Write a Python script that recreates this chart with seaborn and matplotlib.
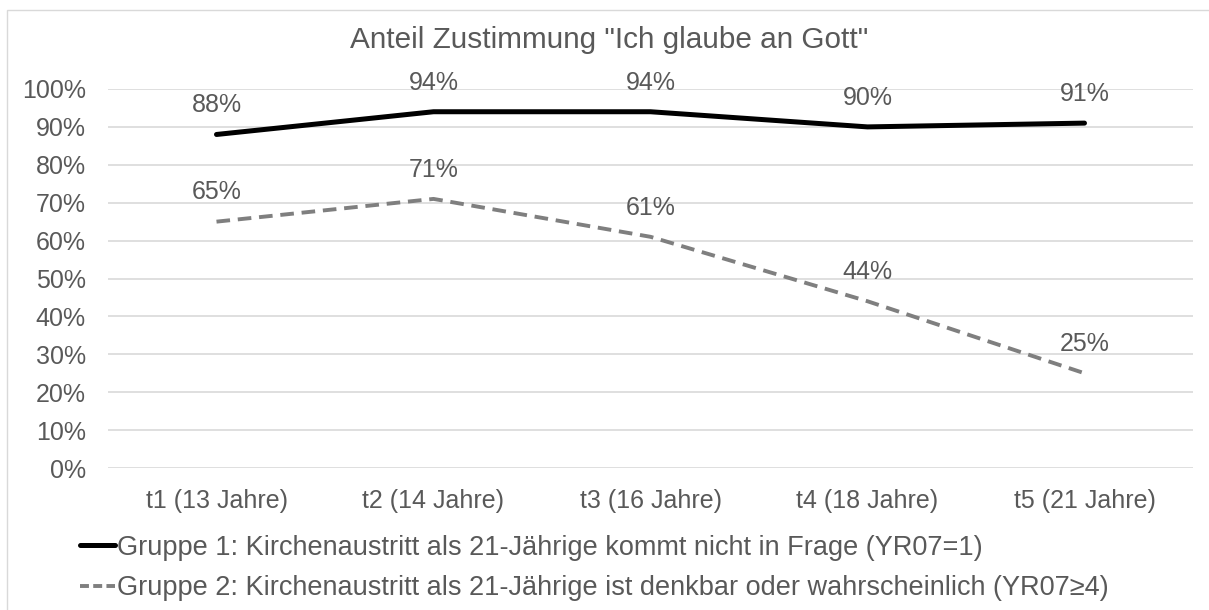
import matplotlib
matplotlib.use("Agg")
import matplotlib.pyplot as plt
from matplotlib.ticker import PercentFormatter
from matplotlib.patches import Rectangle
from matplotlib.lines import Line2D
import seaborn as sns
import pandas as pd

# Werte aus der Grafik
zeitpunkte = ['t1 (13 Jahre)', 't2 (14 Jahre)', 't3 (16 Jahre)', 't4 (18 Jahre)', 't5 (21 Jahre)']
gruppe1 = [88, 94, 94, 90, 91]
gruppe2 = [65, 71, 61, 44, 25]
label1 = 'Gruppe 1: Kirchenaustritt als 21-Jährige kommt nicht in Frage (YR07=1)'
label2 = 'Gruppe 2: Kirchenaustritt als 21-Jährige ist denkbar oder wahrscheinlich (YR07≥4)'
titel = 'Anteil Zustimmung "Ich glaube an Gott"'

sns.set_theme(style='white')
plt.rcParams['font.family'] = ['Liberation Sans', 'DejaVu Sans']
textfarbe = '#595959'

df = pd.DataFrame({
    'zeit': zeitpunkte * 2,
    'wert': [v / 100 for v in gruppe1 + gruppe2],
    'gruppe': [label1] * len(gruppe1) + [label2] * len(gruppe2),
})

W, H = 1209, 610
fig = plt.figure(figsize=(W / 100, H / 100), dpi=100)
ax = fig.add_axes([108 / W, 1 - 468 / H, (1193 - 108) / W, (468 - 89) / H])

sns.lineplot(data=df, x='zeit', y='wert', hue='gruppe', style='gruppe',
             palette={label1: 'black', label2: '#7f7f7f'},
             dashes={label1: '', label2: (3.5, 2)},
             ax=ax, legend=False, sort=False)
for line, lw in zip(ax.lines, [3.6, 2.8]):
    line.set_linewidth(lw)
    line.set_solid_capstyle('round')

# Datenbeschriftungen
for serie in (gruppe1, gruppe2):
    for i, v in enumerate(serie):
        ax.annotate(f'{v}%', (i, v / 100), xytext=(0, 21), textcoords='offset points',
                    ha='center', va='center', fontsize=18, color=textfarbe)

ax.set_ylim(0, 1)
ax.set_xlim(-0.5, len(zeitpunkte) - 0.5)
ax.set_yticks([i / 10 for i in range(11)])
ax.yaxis.set_major_formatter(PercentFormatter(1.0, decimals=0))
ax.grid(axis='y', color='#d9d9d9', linewidth=1.2)
ax.set_axisbelow(True)
for s in ax.spines.values():
    s.set_visible(False)
ax.tick_params(axis='y', length=0, pad=16, labelsize=18, labelcolor=textfarbe)
ax.tick_params(axis='x', length=0, pad=15, labelsize=18, labelcolor=textfarbe)
ax.set_xlabel('')
ax.set_ylabel('')

fig.text(0.504, 1 - 40 / H, titel, ha='center', va='center', fontsize=21.4, color=textfarbe)

# Legende
handles = [Line2D([], [], color='black', linewidth=3.6),
           Line2D([], [], color='#7f7f7f', linewidth=2.8, dashes=(2.3, 1.1))]
leg = fig.legend(handles, [label1, label2], loc='center left',
                 bbox_to_anchor=(80 / W, 1 - 568 / H), frameon=False,
                 fontsize=19.5, handlelength=1.29, handletextpad=0.07,
                 labelspacing=0.52, borderpad=0, borderaxespad=0)
for t in leg.get_texts():
    t.set_color(textfarbe)

# Rahmen
fig.patches.append(Rectangle((7 / W, -0.05), 1.0, 1 - 10 / H + 0.05, transform=fig.transFigure,
                             fill=False, edgecolor='#d9d9d9', linewidth=1))

fig.savefig('out.png', dpi=100)
